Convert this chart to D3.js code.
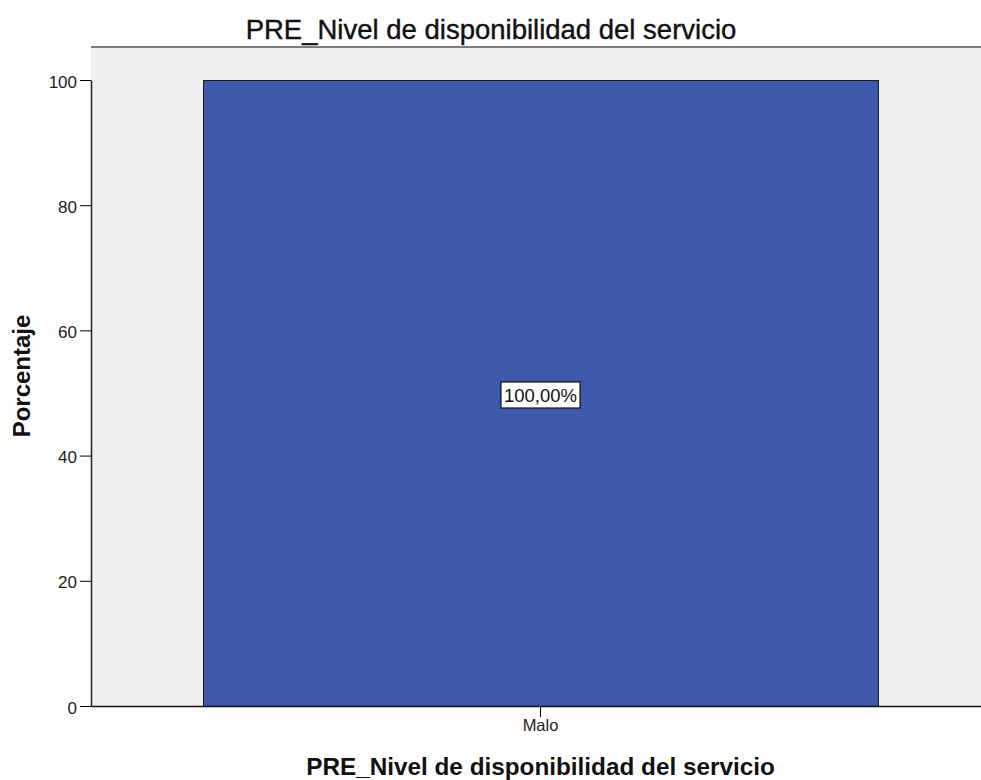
<html>
<head>
  <script src="https://d3js.org/d3.v7.min.js"></script>
  <style>
    body { margin: 0; background: #fff; }
    text { font-family: "Liberation Sans", Arial, sans-serif; }
  </style>
</head>
<body>
  <svg id="chart" width="981" height="780"></svg>
  <script>
    // data
    const categories = ['Malo'];
    const percents = [100];
    const pctLabels = ['100,00%'];
    const yTicks = [0, 20, 40, 60, 80, 100];

    const svg = d3.select('svg#chart');
    const margins = { top: 47, right: -9, bottom: 74, left: 91 };
    const width = 981, height = 780;
    const fontFam = '"Liberation Sans", Arial, sans-serif';

    const xScale = d3.scaleBand().domain(categories)
      .range([margins.left, width - margins.right])
      .paddingInner(0).paddingOuter(0.166);
    const yScale = d3.scaleLinear().domain([0, 100])
      .range([706, 80]);

    // plot background + top frame
    svg.append('rect')
      .attr('x', margins.left).attr('y', margins.top)
      .attr('width', width - margins.left).attr('height', 706 - margins.top)
      .attr('fill', '#f0f0f0');
    svg.append('line')
      .attr('x1', margins.left).attr('x2', width)
      .attr('y1', margins.top).attr('y2', margins.top)
      .attr('stroke', '#555').attr('stroke-width', 1.5);

    // bars
    categories.forEach((c, i) => {
      svg.append('rect')
        .attr('x', xScale(c) + 0.5)
        .attr('y', yScale(percents[i]) + 0.5)
        .attr('width', xScale.bandwidth())
        .attr('height', yScale(0) - yScale(percents[i]))
        .attr('fill', '#3e58ab')
        .attr('stroke', '#1a1a1a').attr('stroke-width', 1);
    });

    // axes (tickSize sets outer too, so reset outer after)
    const leftAxis = d3.axisLeft(yScale).tickValues(yTicks).tickSize(11).tickSizeOuter(0).tickPadding(3);
    const gy = svg.append('g')
      .attr('transform', `translate(${margins.left},0)`)
      .call(leftAxis);
    gy.selectAll('text').attr('font-size', 17).attr('fill', '#222')
      .attr('dy', '0.42em')
      .style('font-family', fontFam);
    gy.select('.domain').attr('stroke', '#222').attr('stroke-width', 1.5);

    const bottomAxis = d3.axisBottom(xScale).tickSize(11).tickSizeOuter(0).tickPadding(2);
    const gx = svg.append('g')
      .attr('transform', `translate(0,706)`)
      .call(bottomAxis);
    gx.selectAll('text').attr('font-size', 16.5).attr('fill', '#222')
      .style('font-family', fontFam);
    gx.select('.domain').attr('stroke', '#111').attr('stroke-width', 1.5);

    // value labels in a white box
    categories.forEach((c, i) => {
      const cx = xScale(c) + xScale.bandwidth() / 2;
      const cy = yScale(percents[i] / 2) + 2;
      const g = svg.append('g');
      const t = g.append('text')
        .attr('x', cx).attr('y', cy + 6.5)
        .attr('text-anchor', 'middle')
        .attr('font-size', 18.5).attr('fill', '#111')
        .text(pctLabels[i]);
      const bb = t.node().getBBox();
      g.insert('rect', 'text')
        .attr('x', bb.x - 3).attr('y', cy - 13)
        .attr('width', bb.width + 6).attr('height', 26)
        .attr('fill', '#fff').attr('stroke', '#111').attr('stroke-width', 1.2);
    });

    // titles
    svg.append('text')
      .attr('x', 491).attr('y', 39)
      .attr('text-anchor', 'middle')
      .attr('font-size', 27.5).attr('fill', '#111')
      .style('stroke', '#111').style('stroke-width', 0.4)
      .text('PRE_Nivel de disponibilidad del servicio');

    svg.append('text')
      .attr('x', xScale('Malo') + xScale.bandwidth() / 2).attr('y', 775)
      .attr('text-anchor', 'middle')
      .attr('font-size', 24.3).attr('font-weight', 'bold').attr('fill', '#111')
      .text('PRE_Nivel de disponibilidad del servicio');

    svg.append('text')
      .attr('transform', 'translate(30,376) rotate(-90)')
      .attr('text-anchor', 'middle')
      .attr('font-size', 24).attr('font-weight', 'bold').attr('fill', '#111')
      .text('Porcentaje');
  </script>
</body>
</html>
